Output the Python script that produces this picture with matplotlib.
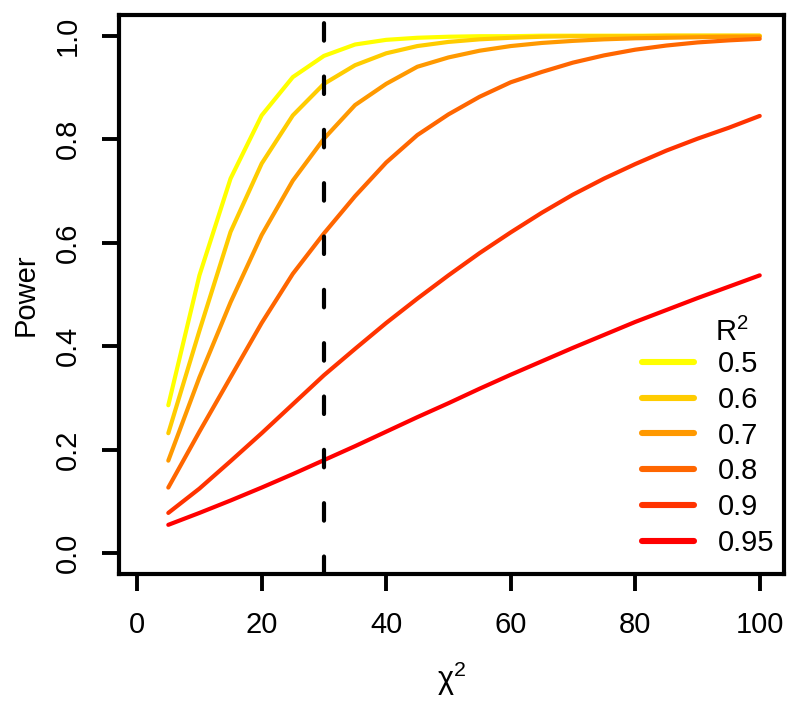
import matplotlib
matplotlib.use("Agg")
import matplotlib.pyplot as plt

plt.rcParams['font.family'] = ['Liberation Sans', 'DejaVu Sans']
plt.rcParams['mathtext.fontset'] = 'custom'
plt.rcParams['mathtext.rm'] = 'Liberation Sans'
plt.rcParams['mathtext.it'] = 'Liberation Sans:italic'
plt.rcParams['mathtext.default'] = 'rm'

chi2 = [5, 10, 15, 20, 25, 30, 35, 40, 45, 50, 55, 60, 65, 70, 75, 80, 85, 90, 95, 100]

r2_labels = ["0.5", "0.6", "0.7", "0.8", "0.9", "0.95"]
colors = ["#FFFF00", "#FFCC00", "#FF9900", "#FF6600", "#FF3300", "#FF0000"]

power_05 = [0.286, 0.537, 0.724, 0.846, 0.920, 0.961, 0.983, 0.992, 0.996, 0.998,
            0.999, 0.999, 1.000, 1.000, 1.000, 1.000, 1.000, 1.000, 1.000, 1.000]
power_06 = [0.232, 0.430, 0.621, 0.753, 0.846, 0.907, 0.943, 0.966, 0.980, 0.988,
            0.993, 0.996, 0.998, 0.999, 0.999, 0.999, 1.000, 1.000, 1.000, 1.000]
power_07 = [0.179, 0.340, 0.485, 0.615, 0.720, 0.801, 0.866, 0.907, 0.940, 0.958,
            0.971, 0.980, 0.986, 0.990, 0.993, 0.995, 0.996, 0.997, 0.998, 0.998]
power_08 = [0.127, 0.235, 0.340, 0.445, 0.540, 0.618, 0.690, 0.755, 0.808, 0.848,
            0.882, 0.910, 0.930, 0.948, 0.962, 0.973, 0.981, 0.987, 0.991, 0.994]
power_09 = [0.078, 0.125, 0.178, 0.232, 0.288, 0.344, 0.395, 0.445, 0.492, 0.537,
            0.580, 0.620, 0.658, 0.693, 0.724, 0.752, 0.778, 0.801, 0.822, 0.845]
power_095 = [0.055, 0.078, 0.102, 0.127, 0.153, 0.180, 0.207, 0.235, 0.263, 0.290,
             0.318, 0.345, 0.371, 0.397, 0.422, 0.447, 0.470, 0.493, 0.515, 0.537]

series = [power_05, power_06, power_07, power_08, power_09, power_095]

threshold = 30
xticks = [0, 20, 40, 60, 80, 100]
yticks = [0.0, 0.2, 0.4, 0.6, 0.8, 1.0]

FS = 21

fig = plt.figure(figsize=(8.0, 7.06), dpi=100)
ax = fig.add_axes([118.5 / 800, (706 - 574) / 706, (784 - 118.5) / 800, (574 - 15) / 706])

for vals, col, lab in zip(series, colors, r2_labels):
    ax.plot(chi2, vals, color=col, lw=3.0, solid_capstyle='round',
            solid_joinstyle='round', label=lab)

ax.axvline(threshold, color='black', lw=3.0, dashes=(4.2, 8.6),
           dash_capstyle='round')

ax.set_xlim(-3.0, 103.9)
ax.set_ylim(-0.04, 1.04)
ax.set_xticks(xticks)
ax.set_yticks(yticks)
ax.set_xticklabels([str(t) for t in xticks])
ax.set_yticklabels([f"{t:.1f}" for t in yticks], rotation=90, va='center')

for s in ax.spines.values():
    s.set_linewidth(3.0)
ax.tick_params(axis='both', length=12.5, width=2.8, labelsize=FS, direction='out')
ax.tick_params(axis='x', pad=14)
ax.tick_params(axis='y', pad=14)

ax.set_xlabel(r"$\chi^2$", fontsize=FS + 1, labelpad=15)
ax.set_ylabel("Power", fontsize=FS, labelpad=10)

leg = ax.legend(loc='lower right', bbox_to_anchor=(0.985, 0.03), frameon=False,
                fontsize=FS, handlelength=1.8, handletextpad=0.8,
                labelspacing=0.27, borderaxespad=0, borderpad=0)
for h in leg.get_lines():
    h.set_linewidth(4.4)
    h.set_solid_capstyle('round')

ax.text(0.896, 0.433, r"R$^2$", transform=ax.transAxes, fontsize=FS,
        ha='left', va='center')

fig.savefig("out.png", dpi=100)
